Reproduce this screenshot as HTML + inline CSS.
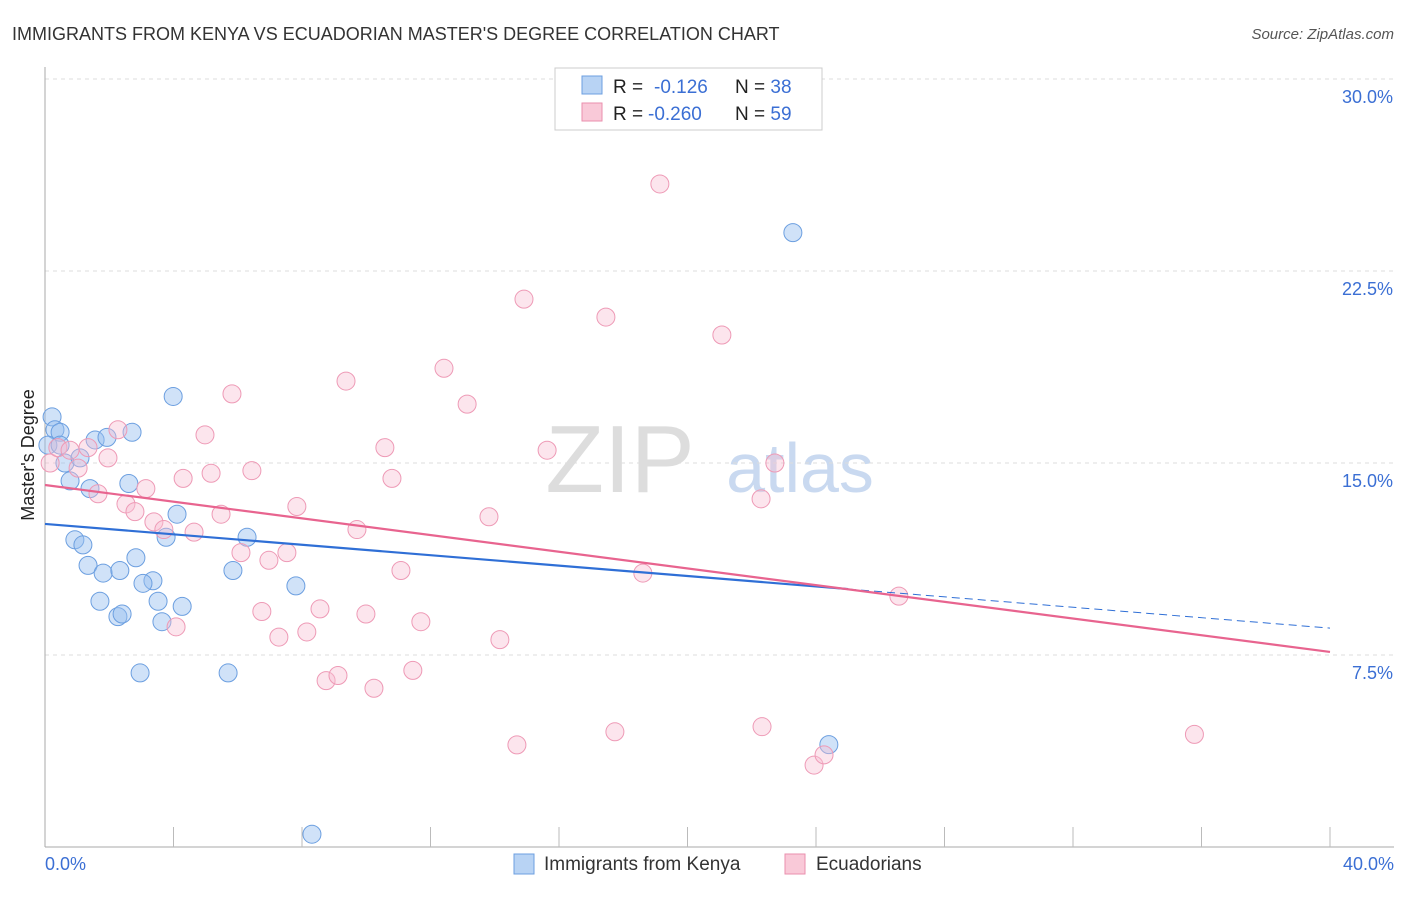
<!DOCTYPE html>
<html><head><meta charset="utf-8"><style>
body{margin:0;background:#fff;font-family:"Liberation Sans",sans-serif}
svg text{font-family:"Liberation Sans",sans-serif}
</style></head><body>
<svg id="c" width="1406" height="892">
<text x="12" y="40" font-size="18" fill="#333">IMMIGRANTS FROM KENYA VS ECUADORIAN MASTER'S DEGREE CORRELATION CHART</text>
<text x="1394" y="39" font-size="15" fill="#555" text-anchor="end" font-style="italic">Source: ZipAtlas.com</text>
<text x="620" y="492" font-size="96" fill="#ddd" font-family="Liberation Serif" text-anchor="middle">ZIP</text>
<text x="800" y="492" font-size="70" fill="#c9d9f0" text-anchor="middle">atlas</text>
<text transform="translate(34,455) rotate(-90)" font-size="18" fill="#222" text-anchor="middle">Master's Degree</text>
<g id="grid"></g><g id="pts"></g><g id="lines"></g>
<g>
<rect x="555" y="68" width="267" height="62" fill="#fff" stroke="#ccc"/>
<rect x="582" y="76" width="20" height="18" fill="#b8d3f4" stroke="#6c9fe0"/>
<rect x="582" y="103" width="20" height="18" fill="#f9c9d8" stroke="#ea8fae"/>
<text x="613" y="93" font-size="19" fill="#222">R = <tspan x="654" fill="#3b6fd4">-0.126</tspan><tspan x="735" fill="#222">N = </tspan><tspan fill="#3b6fd4">38</tspan></text>
<text x="613" y="120" font-size="19" fill="#222">R = <tspan x="648" fill="#3b6fd4">-0.260</tspan><tspan x="735" fill="#222">N = </tspan><tspan fill="#3b6fd4">59</tspan></text>
</g>
<g>
<rect x="514" y="854" width="20" height="20" fill="#b8d3f4" stroke="#6c9fe0"/>
<text x="544" y="870" font-size="19" fill="#333">Immigrants from Kenya</text>
<rect x="785" y="854" width="20" height="20" fill="#f9c9d8" stroke="#ea8fae"/>
<text x="816" y="870" font-size="19" fill="#333">Ecuadorians</text>
</g>
</svg>
<script>
const yTicks=[7.5,15,22.5,30];
const yTickLabels=["7.5%","15.0%","22.5%","30.0%"];
const kenyaX=[0.22,0.31,0.47,0.09,0.62,1.09,1.56,1.93,2.71,3.99,0.78,1.40,2.61,4.11,3.77,6.29,0.93,1.18,1.34,1.81,2.33,2.83,3.36,3.05,3.52,4.27,1.71,2.27,2.40,3.64,2.96,5.70,5.85,7.81,23.28,24.40,8.31,0.47];
const kenyaY=[16.8,16.3,16.2,15.7,15.0,15.2,15.9,16.0,16.2,17.6,14.3,14.0,14.2,13.0,12.1,12.1,12.0,11.8,11.0,10.7,10.8,11.3,10.4,10.3,9.6,9.4,9.6,9.0,9.1,8.8,6.8,6.8,10.8,10.2,24.0,4.0,0.5,15.7];
const ecuX=[0.16,0.40,0.78,1.34,1.03,1.65,1.96,2.27,2.52,2.80,3.14,3.39,3.70,4.64,4.08,4.30,4.98,5.17,5.48,5.82,6.10,6.44,6.75,6.97,7.28,7.53,7.84,8.15,8.56,8.75,9.12,9.37,9.71,9.99,10.24,10.58,10.80,11.08,11.45,11.70,12.42,13.14,13.82,14.16,14.69,14.91,15.63,17.46,17.74,18.61,19.14,21.07,22.29,22.32,22.72,23.94,24.25,26.58,35.78];
const ecuY=[15.0,15.6,15.5,15.6,14.8,13.8,15.2,16.3,13.4,13.1,14.0,12.7,12.4,12.3,8.6,14.4,16.1,14.6,13.0,17.7,11.5,14.7,9.2,11.2,8.2,11.5,13.3,8.4,9.3,6.5,6.7,18.2,12.4,9.1,6.2,15.6,14.4,10.8,6.9,8.8,18.7,17.3,12.9,8.1,3.99,21.4,15.5,20.7,4.5,10.7,25.9,20.0,13.6,4.7,15.0,3.2,3.6,9.8,4.4];
const kenyaTrend=[12.62,8.55];
const ecuTrend=[14.14,7.62];
const NS="http://www.w3.org/2000/svg";
const X=v=>45+v/40*1285, Y=v=>847-v/7.5*192;
function mk(t,a,p){const e=document.createElementNS(NS,t);for(const k in a)e.setAttribute(k,a[k]);p.appendChild(e);return e;}
const g=document.getElementById('grid');
yTicks.forEach((t,i)=>{
 const l=mk('line',{x1:45,x2:1394,y1:Y(t),y2:Y(t),stroke:'#ddd','stroke-dasharray':'4,4'},g);
 
 
 const tx=mk('text',{x:1393,y:Y(t)+24,'font-size':18,fill:'#3b6fd4','text-anchor':'end'},g);
 tx.textContent=yTickLabels[i];
 
 
});
const ax=mk('line',{x1:45,x2:45,y1:67,y2:847,stroke:'#aaa'},g);


const bx=mk('line',{x1:45,x2:1394,y1:847,y2:847,stroke:'#aaa'},g);


for(let i=1;i<=10;i++){const t=mk('line',{x1:X(i*4),x2:X(i*4),y1:827,y2:847,stroke:'#bbb'},g);
 
 }
[["0.0%",45,"start"],["40.0%",1394,"end"]].forEach(d=>{const t=mk('text',{x:d[1],y:870,'font-size':18,fill:'#3b6fd4','text-anchor':d[2]},g);t.textContent=d[0];
 
 });
const p=document.getElementById('pts');
kenyaX.forEach((x,i)=>{const c=mk('circle',{cx:X(x),cy:Y(kenyaY[i]),r:9,fill:'rgba(150,190,240,0.45)',stroke:'#6c9fe0','stroke-width':1},p);
 
 });
ecuX.forEach((x,i)=>{const c=mk('circle',{cx:X(x),cy:Y(ecuY[i]),r:9,fill:'rgba(248,190,210,0.4)',stroke:'#ee9ab6','stroke-width':1},p);
 
 });
const L=document.getElementById('lines');
const kAt=x=>kenyaTrend[0]+(kenyaTrend[1]-kenyaTrend[0])*x/40;
const k1=mk('line',{x1:X(0),y1:Y(kAt(0)),x2:X(25),y2:Y(kAt(25)),stroke:'#2f6fd6','stroke-width':2.2},L);


const k2=mk('line',{x1:X(25),y1:Y(kAt(25)),x2:X(40),y2:Y(kAt(40)),stroke:'#2f6fd6','stroke-width':1,'stroke-dasharray':'8,5'},L);


const e1=mk('line',{x1:X(0),y1:Y(ecuTrend[0]),x2:X(40),y2:Y(ecuTrend[1]),stroke:'#e8648f','stroke-width':2.2},L);


</script>
</body></html>
